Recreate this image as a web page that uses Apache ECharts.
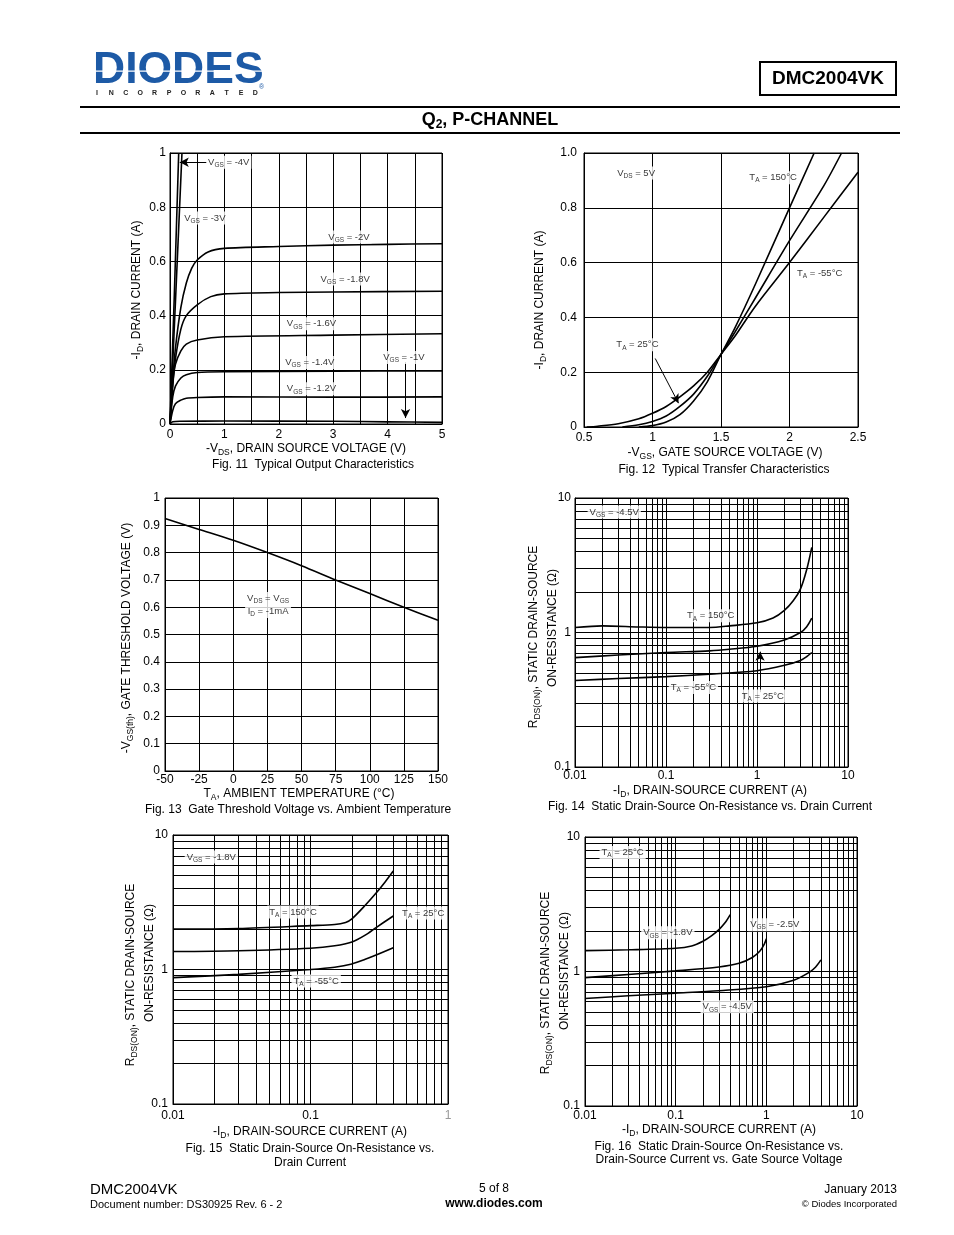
<!DOCTYPE html>
<html><head><meta charset="utf-8">
<script src="https://cdn.jsdelivr.net/npm/echarts@6/dist/echarts.min.js"></script>
<style>html,body{margin:0;padding:0;background:#fff}#c{width:954px;height:1235px}</style>
</head><body><div id="c"></div>
<script>
// ---------------- DATA ----------------
// Fig 11: Typical Output Characteristics  [-VDS (V), -ID (A)]
const f11Vgs4 = [[0,0],[0.08,0.48],[0.16,1.0]];
const f11Vgs3 = [[0,0],[0.1,0.45],[0.22,1.0]];
const f11Vgs2 = [[0,0],[0.05,0.16],[0.1,0.28],[0.2,0.43],[0.3,0.52],[0.4,0.575],[0.5,0.605],[0.7,0.635],[1,0.648],[2,0.655],[3,0.66],[4,0.663],[5,0.665]];
const f11Vgs18 = [[0,0],[0.05,0.14],[0.1,0.24],[0.2,0.35],[0.3,0.40],[0.5,0.44],[0.75,0.47],[1,0.48],[2,0.485],[3,0.487],[5,0.49]];
const f11Vgs16 = [[0,0],[0.05,0.15],[0.1,0.22],[0.2,0.27],[0.3,0.295],[0.5,0.31],[1,0.322],[3,0.328],[5,0.333]];
const f11Vgs14 = [[0,0],[0.05,0.10],[0.1,0.14],[0.2,0.17],[0.3,0.182],[0.5,0.19],[1,0.193],[3,0.195],[5,0.196]];
const f11Vgs12 = [[0,0],[0.05,0.05],[0.1,0.075],[0.2,0.088],[0.3,0.095],[0.5,0.098],[1,0.1],[3,0.099],[5,0.1]];
const f11Vgs1  = [[0,0],[0.05,0.008],[0.2,0.01],[1,0.011],[3,0.01],[4,0.008],[5,0.006]];
const f11Labels = [
  {x:1.08,y:0.966,t:'V{s|GS} = -4V'},{x:0.64,y:0.76,t:'V{s|GS} = -3V'},
  {x:3.29,y:0.69,t:'V{s|GS} = -2V'},{x:3.22,y:0.535,t:'V{s|GS} = -1.8V'},
  {x:2.6,y:0.37,t:'V{s|GS} = -1.6V'},{x:2.57,y:0.227,t:'V{s|GS} = -1.4V'},
  {x:4.3,y:0.245,t:'V{s|GS} = -1V'},{x:2.6,y:0.13,t:'V{s|GS} = -1.2V'}];
const f11Arrows = [[[0.68,0.966],[0.18,0.966]],[[4.33,0.228],[4.33,0.022]]];

// Fig 12: Typical Transfer Characteristics  [-VGS (V), -ID (A)]
const f12A = [[0.52,0],[0.6,0.003],[0.75,0.012],[0.9,0.03],[1.0,0.05],[1.1,0.075],[1.2,0.11],[1.3,0.15],[1.4,0.2],[1.5,0.265],[1.6,0.33],[1.75,0.44],[2.0,0.6],[2.25,0.765],[2.5,0.93]];
const f12B = [[0.78,0],[0.9,0.008],[1.0,0.02],[1.1,0.04],[1.2,0.075],[1.3,0.12],[1.4,0.185],[1.5,0.265],[1.6,0.345],[1.75,0.47],[2.0,0.68],[2.25,0.88],[2.38,1.0]];
const f12C = [[0.9,0],[1.0,0.005],[1.1,0.018],[1.2,0.045],[1.3,0.095],[1.4,0.165],[1.5,0.265],[1.6,0.36],[1.75,0.52],[2.0,0.8],[2.18,1.0]];
const f12Labels = [
  {x:0.88,y:0.927,t:'V{s|DS} = 5V'},{x:1.88,y:0.91,t:'T{s|A} = 150°C'},
  {x:2.22,y:0.56,t:'T{s|A} = -55°C'},{x:0.89,y:0.30,t:'T{s|A} = 25°C'}];
const f12Arrows = [[[1.02,0.25],[1.19,0.087]]];

// Fig 13: Gate Threshold Voltage vs. Ambient Temperature
const f13Temp = [-50,-25,0,25,50,75,100,125,150];
const f13Vth  = [0.925,0.885,0.845,0.80,0.752,0.70,0.65,0.60,0.552];
const f13Labels = [{x:25.5,y:0.608,t:'V{s|DS} = V{s|GS}\nI{s|D} = -1mA'}];

// Fig 14: RDS(ON) vs ID, VGS=-4.5V  [ID (A), R (ohm)]
const f14T150 = [[0.01,1.09],[0.02,1.12],[0.05,1.1],[0.1,1.09],[0.3,1.09],[0.5,1.12],[1,1.18],[1.5,1.28],[2,1.46],[2.5,1.72],[3,2.1],[3.5,2.9],[4,4.3]];
const f14T25  = [[0.01,0.65],[0.03,0.68],[0.1,0.71],[0.3,0.73],[0.5,0.75],[1,0.79],[2,0.88],[3,1.0],[3.5,1.1],[4,1.28]];
const f14Tm55 = [[0.01,0.44],[0.03,0.455],[0.1,0.47],[0.3,0.49],[1,0.52],[2,0.57],[3,0.62],[3.5,0.66],[4,0.71]];
const f14Labels = [
  {x:0.027,y:7.87,t:'V{s|GS} = -4.5V'},{x:0.31,y:1.33,t:'T{s|A} = 150°C'},
  {x:0.2,y:0.39,t:'T{s|A} = -55°C'},{x:1.16,y:0.337,t:'T{s|A} = 25°C'}];
const f14Arrows = [[[1.08,0.36],[1.08,0.72]]];

// Fig 15: RDS(ON) vs ID, VGS=-1.8V
const f15T150 = [[0.01,2.0],[0.03,2.02],[0.1,2.12],[0.15,2.16],[0.18,2.24],[0.2,2.38],[0.25,3.0],[0.3,3.7],[0.35,4.5],[0.4,5.4]];
const f15T25  = [[0.01,1.36],[0.03,1.38],[0.1,1.44],[0.15,1.5],[0.2,1.6],[0.25,1.8],[0.3,2.05],[0.4,2.5]];
const f15Tm55 = [[0.01,0.87],[0.03,0.92],[0.1,1.0],[0.15,1.04],[0.2,1.1],[0.25,1.19],[0.3,1.28],[0.4,1.45]];
const f15Labels = [
  {x:0.019,y:6.86,t:'V{s|GS} = -1.8V'},{x:0.0746,y:2.68,t:'T{s|A} = 150°C'},
  {x:0.66,y:2.63,t:'T{s|A} = 25°C'},{x:0.11,y:0.82,t:'T{s|A} = -55°C'}];

// Fig 16: RDS(ON) vs ID vs VGS, TA=25°C
const f16V18 = [[0.01,1.43],[0.03,1.45],[0.1,1.49],[0.15,1.55],[0.2,1.68],[0.25,1.85],[0.3,2.05],[0.35,2.3],[0.4,2.65]];
const f16V25 = [[0.01,0.9],[0.03,0.95],[0.1,1.01],[0.3,1.08],[0.5,1.15],[0.7,1.27],[0.85,1.42],[0.95,1.6],[1.0,1.75]];
const f16V45 = [[0.01,0.63],[0.03,0.66],[0.1,0.69],[0.3,0.72],[1,0.77],[2,0.86],[3,0.99],[3.5,1.08],[4,1.22]];
const f16Labels = [
  {x:0.026,y:7.66,t:'T{s|A} = 25°C'},{x:0.082,y:1.94,t:'V{s|GS} = -1.8V'},
  {x:1.24,y:2.23,t:'V{s|GS} = -2.5V'},{x:0.37,y:0.546,t:'V{s|GS} = -4.5V'}];

// ---------------- RENDER ----------------
const FONT = "'Liberation Sans', Arial, Helvetica, sans-serif";
const chart = echarts.init(document.getElementById('c'), null, {renderer:'canvas', width:954, height:1235});

const grids = [
  {left:170, top:153, width:272, height:271},
  {left:584, top:153, width:274, height:274},
  {left:165, top:498, width:273, height:273},
  {left:575, top:498, width:273, height:269},
  {left:173, top:835, width:275, height:269},
  {left:585, top:837, width:272, height:269}
].map(g => Object.assign({show:true, borderColor:'#000', borderWidth:1, backgroundColor:'transparent'}, g));

const lab = (margin, fmt, extra) => Object.assign({show:true, color:'#000', fontSize:12, fontFamily:FONT, margin:margin, formatter:fmt}, extra||{});
const split = {show:true, lineStyle:{color:'#000', width:1}};
function valAxis(gi, min, max, interval, margin, fmt, extra) {
  return Object.assign({type:'value', gridIndex:gi, min, max, interval,
    axisLine:{show:true, lineStyle:{color:'#000', width:1}}, axisTick:{show:false},
    splitLine:split, axisLabel:lab(margin, fmt)}, extra||{});
}
function logAxis(gi, min, max, margin, fmt, extra) {
  return Object.assign({type:'log', logBase:10, gridIndex:gi, min, max,
    axisLine:{show:true, lineStyle:{color:'#000', width:1}}, axisTick:{show:false},
    splitLine:split, axisLabel:lab(margin, fmt)}, extra||{});
}
const isInt = v => Math.abs(v - Math.round(v)) < 1e-6;

const xAxes = [
  valAxis(0, 0, 5, 0.5, 5, v => isInt(v) ? String(Math.round(v)) : ''),
  valAxis(1, 0.5, 2.5, 0.5, 5, v => String(v)),
  valAxis(2, -50, 150, 25, 3, v => String(v)),
  logAxis(3, 0.01, 10, 3, v => String(v)),
  logAxis(4, 0.01, 1, 6, null, {axisLabel: lab(6, v => Math.abs(v-1)<1e-9 ? '{g|1}' : String(v), {rich:{g:{color:'#999', fontSize:12, fontFamily:FONT}}})}),
  logAxis(5, 0.01, 10, 4, v => String(v))
];
const yAxes = [
  valAxis(0, 0, 1, 0.2, 4, v => String(+v.toFixed(1))),
  valAxis(1, 0, 1, 0.2, 7, v => v === 0 ? '0' : v.toFixed(1)),
  valAxis(2, 0, 1, 0.1, 5, v => String(+v.toFixed(1))),
  logAxis(3, 0.1, 10, 4, v => String(v)),
  logAxis(4, 0.1, 10, 5, v => String(v)),
  logAxis(5, 0.1, 10, 5, v => String(v))
];

function richSub(main, sub, lh, pad) {
  return {s:{fontSize:sub, fontFamily:FONT, color:'#000', verticalAlign:'bottom', padding:[pad,0,0,0], lineHeight: lh}};
}
function curve(gi, data, extra) {
  return Object.assign({type:'line', xAxisIndex:gi, yAxisIndex:gi, data, symbol:'none', showSymbol:false,
    smooth:0.3, silent:true, z:3, animation:false,
    lineStyle:{color:'#000', width:1.6}, emphasis:{disabled:true}}, extra||{});
}
function labels(gi, items) {
  return {type:'scatter', xAxisIndex:gi, yAxisIndex:gi, symbolSize:0, z:6, silent:true, animation:false,
    label:{show:true, position:'inside', color:'#000', fontSize:9.5, fontFamily:FONT, lineHeight:13,
      backgroundColor:'#fff', padding:[0,2,0,2], formatter:p => p.data.t, rich:richSub(9.5, 6.5, 13, 5)},
    data: items.map(a => ({value:[a.x,a.y], t:a.t}))};
}
function arrowLines(list) {
  return {silent:true, animation:false, symbol:['none','arrow'], symbolSize:[7,9], label:{show:false},
    lineStyle:{color:'#000', width:1, type:'solid'}, emphasis:{disabled:true},
    data: list.map(a => [{coord:a[0]},{coord:a[1]}])};
}
function minors(lo, hi) {
  const out = [];
  for (let e = lo; e < hi; e++) for (let k = 2; k <= 9; k++) out.push(+(k*Math.pow(10,e)).toPrecision(6));
  return out;
}
function gridMinor(xs, ys) {
  return {silent:true, animation:false, symbol:['none','none'], label:{show:false},
    lineStyle:{color:'#000', width:1, type:'solid', opacity:1}, emphasis:{disabled:true},
    data: xs.map(v => ({xAxis:v})).concat(ys.map(v => ({yAxis:v})))};
}

const series = [
  // Fig 11
  curve(0, f11Vgs4, {smooth:false}), curve(0, f11Vgs3, {smooth:0.2}), curve(0, f11Vgs2), curve(0, f11Vgs18),
  curve(0, f11Vgs16), curve(0, f11Vgs14), curve(0, f11Vgs12),
  curve(0, f11Vgs1, {markLine: arrowLines(f11Arrows)}),
  labels(0, f11Labels),
  // Fig 12
  curve(1, f12A), curve(1, f12B), curve(1, f12C, {markLine: arrowLines(f12Arrows)}),
  labels(1, f12Labels),
  // Fig 13
  curve(2, f13Temp.map((t,i) => [t, f13Vth[i]]), {smooth:0.3}),
  labels(2, f13Labels),
  // Fig 14
  curve(3, f14T150, {markLine: gridMinor(minors(-2,1), minors(-1,1))}),
  curve(3, f14T25, {markLine: arrowLines(f14Arrows)}), curve(3, f14Tm55),
  labels(3, f14Labels),
  // Fig 15
  curve(4, f15T150, {markLine: gridMinor(minors(-2,0), minors(-1,1))}),
  curve(4, f15T25), curve(4, f15Tm55),
  labels(4, f15Labels),
  // Fig 16
  curve(5, f16V18, {markLine: gridMinor(minors(-2,1), minors(-1,1))}),
  curve(5, f16V25), curve(5, f16V45),
  labels(5, f16Labels)
];

// ---------------- PAGE TEXT ----------------
const axRich = {s:{fontSize:8.5, fontFamily:FONT, fill:'#000', verticalAlign:'bottom', padding:[7,0,0,0], lineHeight:16}};
function txt(x, y, text, opt) {
  opt = opt || {};
  return {type:'text', x, y, rotation: opt.rot || 0, silent:true, z:10,
    style:{text, fill: opt.color || '#000', fontSize: opt.size || 12, fontFamily: FONT,
      fontWeight: opt.weight || 'normal', align: opt.align || 'center', verticalAlign:'middle',
      rich: opt.rich || axRich, lineHeight: opt.lh || 16}};
}
const R90 = Math.PI/2;
const graphics = [
  // header
  txt(93, 71, 'DIODES', {size:44.5, weight:'bold', color:'#1d5aa6', align:'left', lh:46}),
  {type:'rect', silent:true, shape:{x:93, y:70.5, width:172, height:1.2}, style:{fill:'#fff'}, z:11},
  txt(259, 87, '®', {size:7, color:'#1d5aa6', align:'left'}),
  {type:'rect', silent:true, shape:{x:760, y:62, width:136, height:33}, style:{fill:'none', stroke:'#000', lineWidth:2}},
  txt(828, 79, 'DMC2004VK', {size:19, weight:'bold'}),
  {type:'line', silent:true, shape:{x1:80, y1:107, x2:900, y2:107}, style:{stroke:'#000', lineWidth:2}},
  {type:'line', silent:true, shape:{x1:80, y1:133, x2:900, y2:133}, style:{stroke:'#000', lineWidth:2}},
  txt(490, 120, 'Q{t|2}, P-CHANNEL', {size:18, weight:'bold', lh:22,
    rich:{t:{fontSize:12, fontWeight:'bold', fontFamily:FONT, fill:'#000', verticalAlign:'bottom', padding:[8,0,0,0], lineHeight:22}}}),
  // Fig 11
  txt(306, 449, '-V{s|DS}, DRAIN SOURCE VOLTAGE (V)'),
  txt(313, 465, 'Fig. 11  Typical Output Characteristics'),
  txt(137, 290, '-I{s|D}, DRAIN CURRENT (A)', {rot:R90}),
  // Fig 12
  txt(725, 453, '-V{s|GS}, GATE SOURCE VOLTAGE (V)'),
  txt(724, 470, 'Fig. 12  Typical Transfer Characteristics'),
  txt(540, 300, '-I{s|D}, DRAIN CURRENT (A)', {rot:R90}),
  // Fig 13
  txt(299, 794, 'T{s|A}, AMBIENT TEMPERATURE (°C)'),
  txt(298, 810, 'Fig. 13  Gate Threshold Voltage vs. Ambient Temperature'),
  txt(127, 638, '-V{s|GS(th)}, GATE THRESHOLD VOLTAGE (V)', {rot:R90}),
  // Fig 14
  txt(710, 791, '-I{s|D}, DRAIN-SOURCE CURRENT (A)'),
  txt(710, 807, 'Fig. 14  Static Drain-Source On-Resistance vs. Drain Current'),
  txt(534, 637, 'R{s|DS(ON)}, STATIC DRAIN-SOURCE', {rot:R90}),
  txt(553, 628, 'ON-RESISTANCE (Ω)', {rot:R90}),
  // Fig 15
  txt(310, 1132, '-I{s|D}, DRAIN-SOURCE CURRENT (A)'),
  txt(310, 1149, 'Fig. 15  Static Drain-Source On-Resistance vs.'),
  txt(310, 1163, 'Drain Current'),
  txt(131, 975, 'R{s|DS(ON)}, STATIC DRAIN-SOURCE', {rot:R90}),
  txt(150, 963, 'ON-RESISTANCE (Ω)', {rot:R90}),
  // Fig 16
  txt(719, 1130, '-I{s|D}, DRAIN-SOURCE CURRENT (A)'),
  txt(719, 1147, 'Fig. 16  Static Drain-Source On-Resistance vs.'),
  txt(719, 1160, 'Drain-Source Current vs. Gate Source Voltage'),
  txt(546, 983, 'R{s|DS(ON)}, STATIC DRAIN-SOURCE', {rot:R90}),
  txt(565, 971, 'ON-RESISTANCE (Ω)', {rot:R90}),
  // footer
  txt(90, 1190, 'DMC2004VK', {size:15, align:'left'}),
  txt(90, 1205, 'Document number: DS30925 Rev. 6 - 2', {size:11, align:'left'}),
  txt(494, 1189, '5 of 8', {size:12}),
  txt(494, 1204, 'www.diodes.com', {size:12, weight:'bold'}),
  txt(897, 1190, 'January 2013', {size:12, align:'right'}),
  txt(897, 1204, '© Diodes Incorporated', {size:9.5, align:'right'})
];
const inc = 'INCORPORATED';
for (let i = 0; i < inc.length; i++) {
  graphics.push(txt(97 + i*14.4, 93, inc[i], {size:7, weight:'bold', color:'#222'}));
}

chart.setOption({
  animation:false,
  backgroundColor:'#fff',
  textStyle:{fontFamily:FONT},
  grid: grids,
  xAxis: xAxes,
  yAxis: yAxes,
  series: series,
  graphic: {elements: graphics}
});
</script>
</body></html>
